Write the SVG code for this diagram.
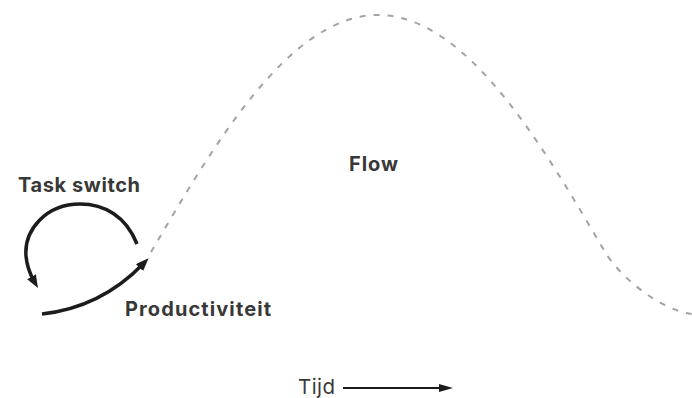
<svg xmlns="http://www.w3.org/2000/svg" width="692" height="398" viewBox="0 0 692 398">
  <style>
    .lbl { font-family: Inter, "Open Sans", "Liberation Sans", sans-serif; font-size: 20px; font-weight: 700; fill: #383838; }
    .axis { font-family: Inter, "Open Sans", "Liberation Sans", sans-serif; font-size: 20.5px; font-weight: 400; fill: #3a3a3a; }
    .curve { fill: none; stroke: #a3a3a3; stroke-width: 2; stroke-dasharray: 6 8; }
    .arrow { fill: none; stroke: #1c1c1c; stroke-width: 3.5; stroke-linecap: butt; }
    .thin { fill: none; stroke: #1c1c1c; stroke-width: 2; }
  </style>
  <defs>
    <marker id="head" viewBox="0 0 13 10" markerWidth="13" markerHeight="10" refX="5" refY="5" orient="auto" markerUnits="userSpaceOnUse">
      <path d="M0,0 L13,5 L0,10 z" fill="#1c1c1c"/>
    </marker>
    <marker id="headSmall" viewBox="0 0 14 8" markerWidth="14" markerHeight="8" refX="1" refY="4" orient="auto" markerUnits="userSpaceOnUse">
      <path d="M0,0 L14,4 L0,8 z" fill="#1c1c1c"/>
    </marker>
  </defs>

  <g id="flow-curve">
    <path class="curve" d="M151,252 C211,150 288,15 378,15 C468,15 545,150 605,252 C620,277 660,310 692,314"/>
  </g>

  <g id="connectors">
    <path class="arrow" d="M137,244 C126,216 104,204 80,204 C46,204 24,230 26,256 C27,267 30,274 34,281" marker-end="url(#head)"/>
    <path class="arrow" d="M42,314 C78,310 112,296 143,264" marker-end="url(#head)"/>
    <path class="thin" d="M343,388 L440,388" marker-end="url(#headSmall)"/>
  </g>

  <g id="task-switch">
    <text class="lbl" x="18" y="192" textLength="122" lengthAdjust="spacing">Task switch</text>
  </g>
  <g id="productiviteit">
    <text class="lbl" x="125" y="316" textLength="146" lengthAdjust="spacing">Productiviteit</text>
  </g>
  <g id="flow">
    <text class="lbl" x="349" y="171" textLength="49" lengthAdjust="spacing">Flow</text>
  </g>
  <g id="tijd">
    <text class="axis" x="298" y="394" textLength="37" lengthAdjust="spacing">Tijd</text>
  </g>
</svg>
